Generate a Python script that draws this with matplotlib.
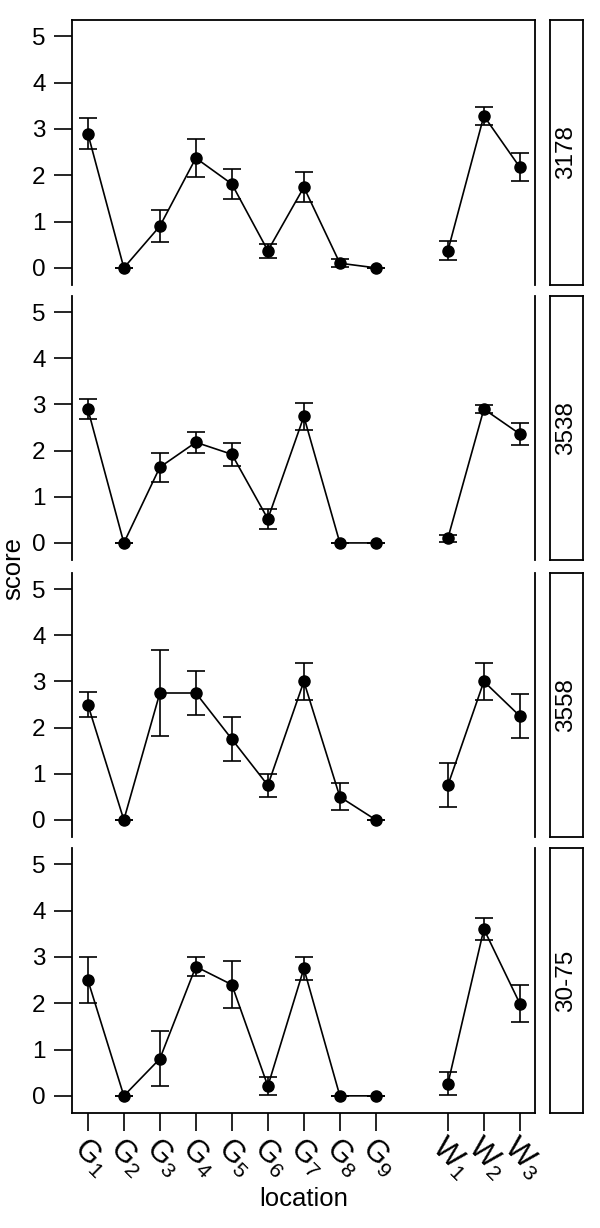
#!/usr/bin/env python3
import matplotlib
matplotlib.use('Agg')
import matplotlib.pyplot as plt
import matplotlib.transforms as mtransforms

plt.rcParams['font.family'] = ['Liberation Sans', 'DejaVu Sans']
plt.rcParams['mathtext.default'] = 'regular'

# Data
locations = ['G1', 'G2', 'G3', 'G4', 'G5', 'G6', 'G7', 'G8', 'G9', 'W1', 'W2', 'W3']
loc_x = [1, 2, 3, 4, 5, 6, 7, 8, 9, 11, 12, 13]
tick_labels = ['G$_1$', 'G$_2$', 'G$_3$', 'G$_4$', 'G$_5$', 'G$_6$', 'G$_7$',
               'G$_8$', 'G$_9$', 'W$_1$', 'W$_2$', 'W$_3$']
panels = ['3178', '3538', '3558', '30-75']

score_3178 = [2.90, 0.00, 0.90, 2.37, 1.81, 0.37, 1.74, 0.10, 0.00, 0.37, 3.28, 2.17]
err_3178 = [0.34, 0.00, 0.35, 0.41, 0.32, 0.15, 0.32, 0.09, 0.00, 0.20, 0.19, 0.30]

score_3538 = [2.90, 0.00, 1.64, 2.18, 1.92, 0.52, 2.74, 0.00, 0.00, 0.10, 2.90, 2.36]
err_3538 = [0.21, 0.00, 0.31, 0.23, 0.25, 0.22, 0.30, 0.00, 0.00, 0.08, 0.08, 0.24]

score_3558 = [2.50, 0.00, 2.75, 2.75, 1.75, 0.75, 3.00, 0.50, 0.00, 0.75, 3.00, 2.25]
err_3558 = [0.28, 0.00, 0.94, 0.47, 0.47, 0.25, 0.41, 0.29, 0.00, 0.48, 0.41, 0.47]

score_3075 = [2.50, 0.00, 0.80, 2.79, 2.40, 0.21, 2.75, 0.00, 0.00, 0.26, 3.60, 1.99]
err_3075 = [0.50, 0.00, 0.59, 0.20, 0.51, 0.20, 0.25, 0.00, 0.00, 0.25, 0.24, 0.40]

scores = [score_3178, score_3538, score_3558, score_3075]
errors = [err_3178, err_3538, err_3558, err_3075]


def draw():
    W, H = 600, 1228
    fig = plt.figure(figsize=(W / 100, H / 100), dpi=100, facecolor='white')

    tops = [20, 296, 573, 848]
    bottoms = [285, 560, 837, 1113]
    left, right = 72, 535
    s_left, s_right = 550, 583
    lw = 1.3

    for i, name in enumerate(panels):
        y0 = 1 - bottoms[i] / H
        h = (bottoms[i] - tops[i]) / H
        ax = fig.add_axes([left / W, y0, (right - left) / W, h])

        x, y, e = loc_x, scores[i], errors[i]
        # G sites and W sites are joined separately
        ax.plot(x[:9], y[:9], color='black', lw=1.2, marker='o', ms=8, zorder=3)
        ax.plot(x[9:], y[9:], color='black', lw=1.2, marker='o', ms=8, zorder=3)
        ax.errorbar(x, y, yerr=e, fmt='none', ecolor='black', elinewidth=1.2,
                    capsize=6.5, capthick=1.2, zorder=2)

        ax.set_xlim(0.56, 13.42)
        ax.set_ylim(-0.37, 5.35)
        ax.set_yticks([0, 1, 2, 3, 4, 5])
        ax.tick_params(axis='y', direction='out', length=13, width=1.2,
                       labelsize=17.5, pad=6)
        for side in ['left', 'right', 'top', 'bottom']:
            ax.spines[side].set_linewidth(lw)
        ax.spines['top'].set_visible(i == 0)
        ax.spines['bottom'].set_visible(i == len(panels) - 1)

        if i == len(panels) - 1:
            ax.set_xticks(loc_x)
            ax.set_xticklabels(tick_labels, rotation=-45, ha='center',
                               va='center', rotation_mode='anchor')
            ax.tick_params(axis='x', direction='out', length=13, width=1.2,
                           labelsize=22, pad=19)
            for lab in ax.get_xticklabels():
                lab.set_transform(lab.get_transform() + mtransforms.ScaledTranslation(
                    3 / 100, 0, fig.dpi_scale_trans))
            ax.set_xlabel('location', fontsize=18.5, labelpad=3)
        else:
            ax.set_xticks([])

        # strip on the right
        sax = fig.add_axes([s_left / W, y0, (s_right - s_left) / W, h])
        sax.set_xticks([])
        sax.set_yticks([])
        for side in sax.spines:
            sax.spines[side].set_linewidth(lw)
        sax.text(0.5, 0.5, name, rotation=90, ha='center', va='center',
                 fontsize=17.5, transform=sax.transAxes)

    fig.text(13 / W, 1 - 568 / H, 'score', rotation=90, ha='center',
             va='center', fontsize=18.5)

    plt.savefig('out.png', facecolor=fig.get_facecolor(), dpi=100)


if __name__ == '__main__':
    draw()
